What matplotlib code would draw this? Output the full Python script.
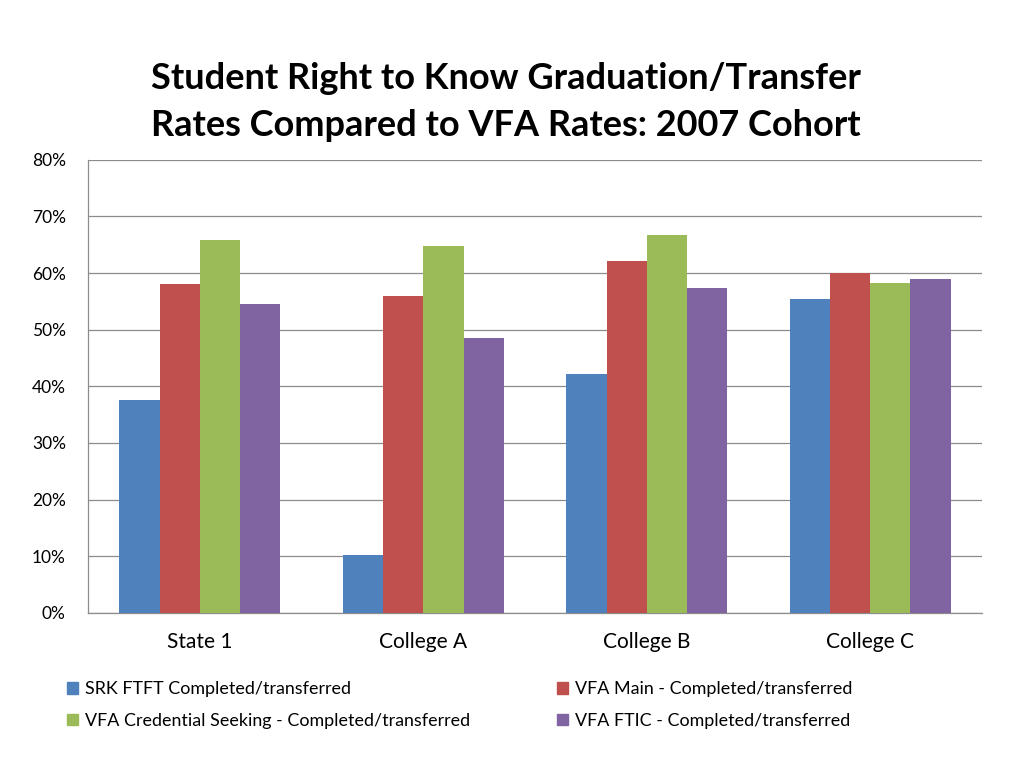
import matplotlib
matplotlib.use("Agg")
import matplotlib.pyplot as plt
import numpy as np
from matplotlib.patches import Patch

plt.rcParams['font.family'] = ['Lato', 'DejaVu Sans']

categories = ['State 1', 'College A', 'College B', 'College C']
series_names = ['SRK FTFT Completed/transferred',
                'VFA Main - Completed/transferred',
                'VFA Credential Seeking - Completed/transferred',
                'VFA FTIC - Completed/transferred']
srk_ftft = [37.6, 10.2, 42.2, 55.5]
vfa_main = [58.1, 56.0, 62.2, 60.0]
vfa_cred = [65.9, 64.8, 66.8, 58.3]
vfa_ftic = [54.6, 48.6, 57.4, 59.0]
colors = ['#4f81bd', '#c0504d', '#9bbb59', '#8064a2']

values = [srk_ftft, vfa_main, vfa_cred, vfa_ftic]

fig = plt.figure(figsize=(10.24, 7.68), dpi=100)
ax = fig.add_axes([0.086, 0.202, 0.873, 0.590])

x = np.arange(len(categories))
w = 0.18
for i, (vals, c) in enumerate(zip(values, colors)):
    ax.bar(x + (i - 1.5) * w, vals, width=w, color=c, zorder=3)

ax.set_xlim(-0.5, len(categories) - 0.5)
ax.set_ylim(0, 80)
ax.set_yticks(range(0, 81, 10))
ax.set_yticklabels([f'{v}%' for v in range(0, 81, 10)], fontsize=12.5)
ax.set_xticks(x)
ax.set_xticklabels(categories, fontsize=15)
ax.tick_params(axis='both', length=0)
ax.tick_params(axis='y', pad=16)
ax.tick_params(axis='x', pad=14)
ax.grid(axis='y', color='#8c8c8c', linewidth=0.9, zorder=0)
for s in ['top', 'right']:
    ax.spines[s].set_visible(False)
for s in ['left', 'bottom']:
    ax.spines[s].set_color('#8c8c8c')
    ax.spines[s].set_linewidth(0.9)

fig.text(0.494, 0.867, 'Student Right to Know Graduation/Transfer\nRates Compared to VFA Rates: 2007 Cohort',
         ha='center', va='center', fontsize=26, fontweight='bold', linespacing=1.5)

# legend: column-major order so blue/green left, red/purple right
order = [0, 2, 1, 3]
handles = [Patch(color=colors[i]) for i in order]
labels = [series_names[i] for i in order]
fig.legend(handles, labels, ncol=2, loc='center left', bbox_to_anchor=(0.05, 0.082),
           frameon=False, fontsize=12.9, handlelength=0.6, handleheight=0.6,
           handletextpad=0.4, columnspacing=4.85, labelspacing=0.88)

fig.savefig('out.png', dpi=100)
